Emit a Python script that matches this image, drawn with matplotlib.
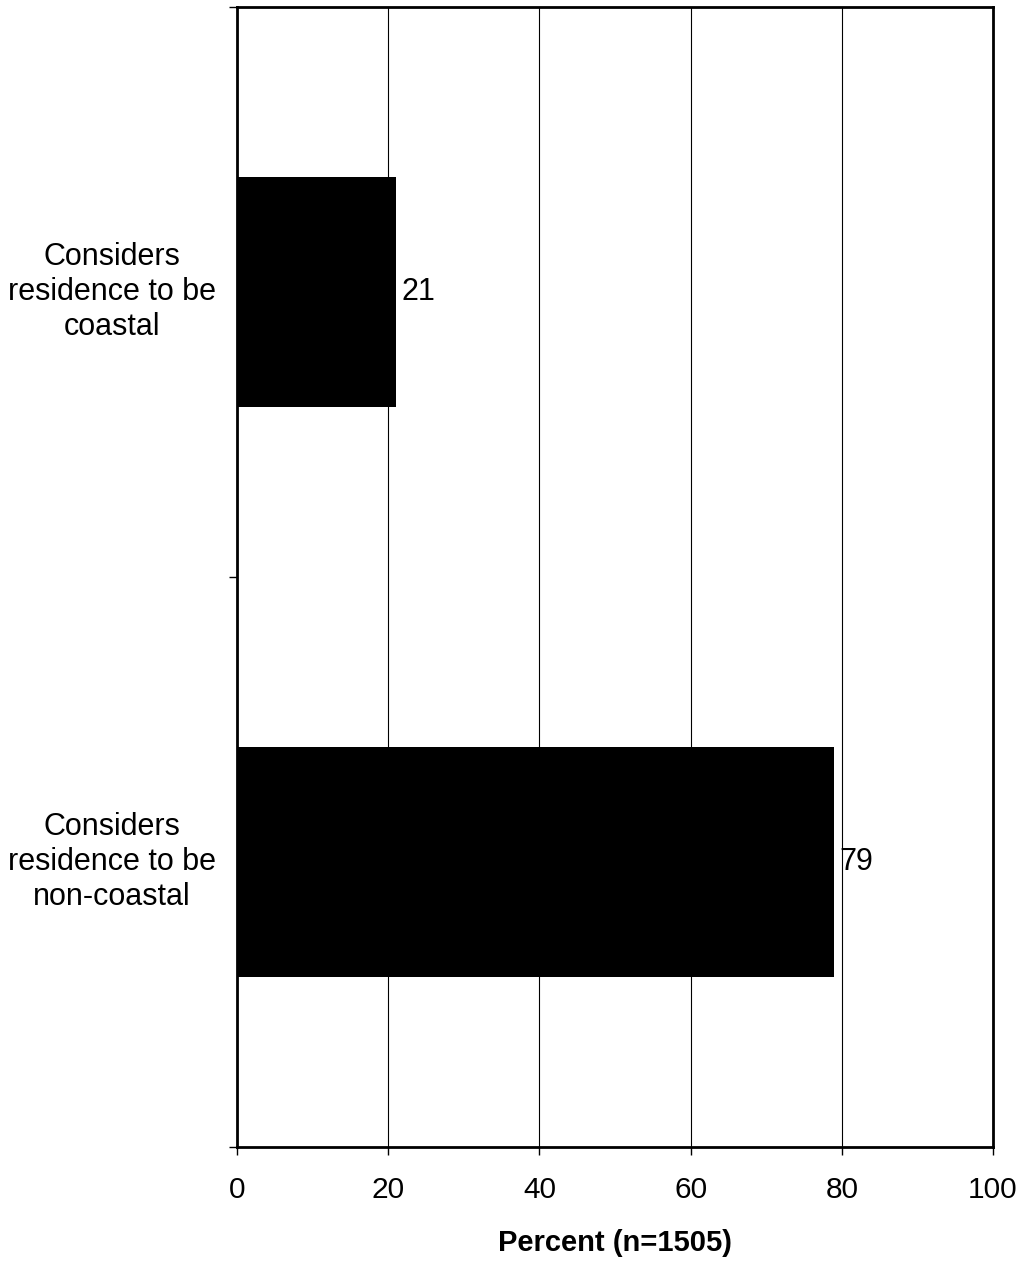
import matplotlib
matplotlib.use("Agg")
import matplotlib.pyplot as plt

categories = ["Considers\nresidence to be\ncoastal", "Considers\nresidence to be\nnon-coastal"]
values = [21, 79]
value_labels = ["21", "79"]
xticks = [0, 20, 40, 60, 80, 100]
xlabel = "Percent (n=1505)"

plt.rcParams['font.family'] = ['Liberation Sans', 'DejaVu Sans']

fig = plt.figure(figsize=(10.25, 12.61), dpi=100)
ax = fig.add_axes([237/1025, 114/1261, 756/1025, 1140/1261])

positions = [1.5, 0.5]
ax.barh(positions, values, height=0.404, color='black', zorder=3)
for p, v, lab in zip(positions, values, value_labels):
    ax.annotate(lab, (v, p), xytext=(4, 0), textcoords='offset points',
                va='center', ha='left', fontsize=22)
for p, c in zip(positions, categories):
    ax.text(-16.6, p, c, ha='center', va='center', fontsize=22,
            multialignment='center', linespacing=1.22)

ax.set_xlim(0, 100)
ax.set_ylim(0, 2)
ax.set_xticks(xticks)
ax.set_xticklabels([str(t) for t in xticks], fontsize=21.5)
ax.set_yticks([0, 1, 2])
ax.set_yticklabels([])
ax.tick_params(axis='both', direction='out', length=6, width=1, color='black')
ax.tick_params(axis='x', pad=15)
ax.xaxis.grid(True, color='black', linewidth=0.8, zorder=0)
ax.set_axisbelow(True)
for s in ax.spines.values():
    s.set_linewidth(2)
    s.set_color('black')
ax.set_xlabel(xlabel, fontsize=21, fontweight='bold', labelpad=18)

fig.savefig("out.png", dpi=100)
